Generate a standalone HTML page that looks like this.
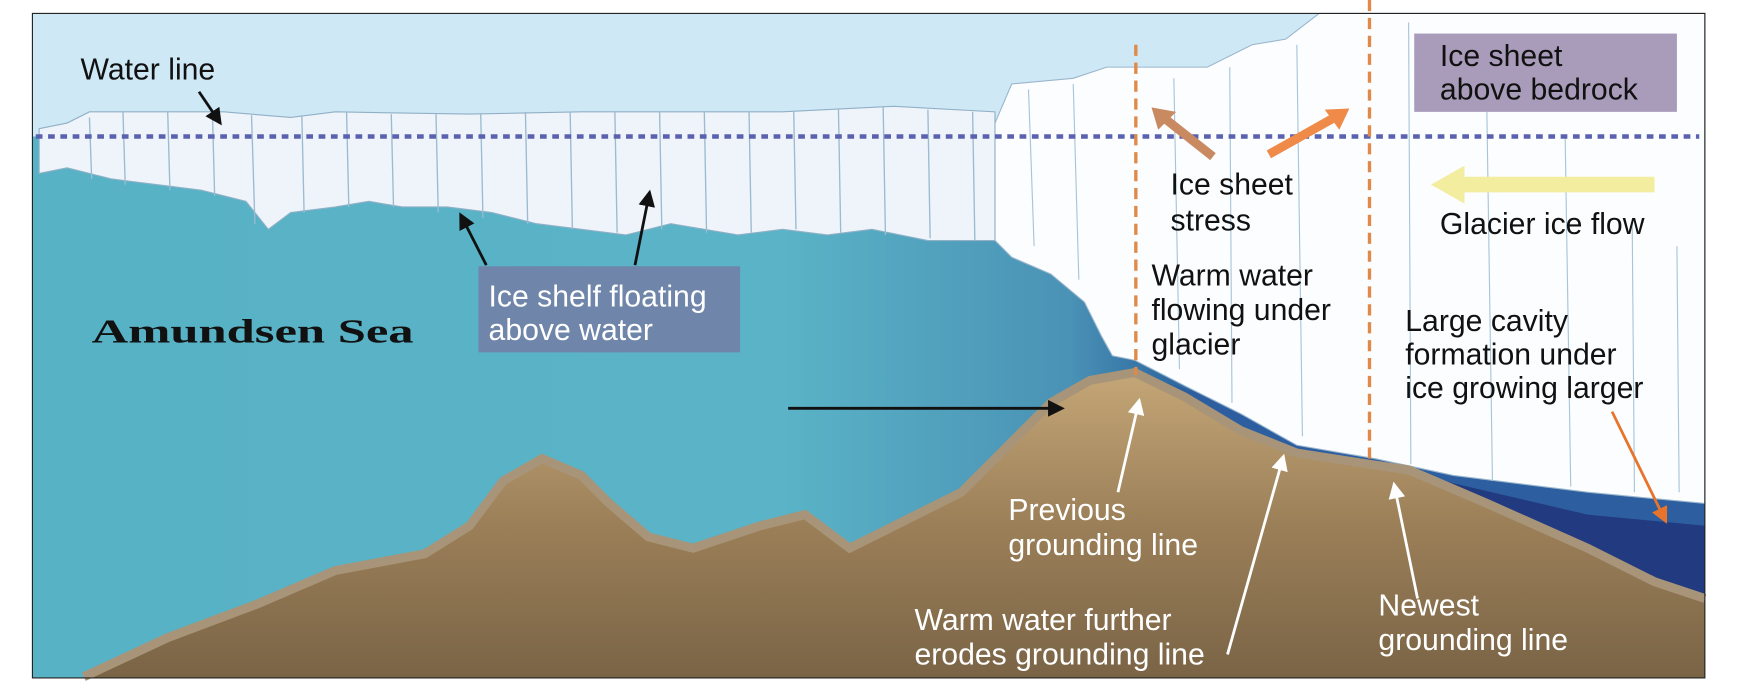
<!DOCTYPE html>
<html><head><meta charset="utf-8"><style>
html,body{margin:0;padding:0;background:#fff;width:1744px;height:688px;overflow:hidden}
svg{display:block}
</style></head><body>
<svg width="1744" height="688" viewBox="0 0 1560 615" preserveAspectRatio="none" xmlns="http://www.w3.org/2000/svg" font-family="Liberation Sans, sans-serif">
<defs>
<linearGradient id="sea" x1="0" x2="1" y1="0" y2="0">
<stop offset="0" stop-color="#58b2c6"/><stop offset="0.45" stop-color="#5ab3c6"/><stop offset="0.62" stop-color="#4a92b6"/><stop offset="0.68" stop-color="#2f6aa0"/></linearGradient>
<linearGradient id="ground" x1="0" x2="0" y1="0" y2="1">
<stop offset="0" stop-color="#c4a677"/><stop offset="0.5" stop-color="#9b7f58"/><stop offset="1" stop-color="#7a6446"/></linearGradient>
<marker id="ab" markerWidth="6" markerHeight="6" refX="5" refY="3" orient="auto"><path d="M0,0L6,3L0,6z" fill="#111"/></marker>
<marker id="aw" markerWidth="6" markerHeight="6" refX="5" refY="3" orient="auto"><path d="M0,0L6,3L0,6z" fill="#fff"/></marker>
<marker id="ao" markerWidth="6" markerHeight="6" refX="5" refY="3" orient="auto"><path d="M0,0L6,3L0,6z" fill="#e8742c"/></marker>
</defs>
<rect x="0" y="0" width="1560" height="615" fill="#fff"/>
<rect x="29" y="12" width="1496" height="594" fill="#cfe8f6"/>
<rect x="29" y="122" width="1496" height="484" fill="url(#sea)"/>
<path d="M1150,400 L1230,410 L1300,430 L1380,440 L1525,445 L1525,540 L1430,520 Z" fill="#213a80"/>
<path d="M1005,330 L1050,345 L1100,375 L1150,400 L1230,412 L1300,432 L1420,460 L1525,470 L1525,430 L1300,418 L1100,360 Z" fill="#2d5ea0"/>
<path d="M905,75 L960,70 L990,60 L1080,60 L1120,40 L1150,35 L1180,12 L1525,12 L1525,450 L1420,440 L1300,425 L1230,410 L1160,398 L1110,370 L1060,345 L1015,322 L995,318 L985,300 L970,270 L940,245 L905,230 L890,215 L890,110 Z" fill="#fbfdff" stroke="#9ab6cc" stroke-width="1"/>
<g stroke="#a8c4d8" stroke-width="1">
<line x1="920" y1="80" x2="925" y2="220"/><line x1="960" y1="75" x2="965" y2="250"/><line x1="1050" y1="70" x2="1055" y2="330"/><line x1="1100" y1="60" x2="1102" y2="360"/><line x1="1160" y1="40" x2="1165" y2="390"/><line x1="1260" y1="20" x2="1262" y2="415"/><line x1="1330" y1="100" x2="1335" y2="430"/><line x1="1400" y1="120" x2="1405" y2="435"/><line x1="1460" y1="200" x2="1462" y2="440"/><line x1="1500" y1="220" x2="1502" y2="440"/>
</g>
<path d="M35,115 L60,110 L80,100 L200,100 L260,105 L300,100 L420,102 L520,100 L700,100 L800,95 L890,100 L890,215 L830,215 L780,205 L740,210 L700,205 L660,210 L600,200 L560,210 L520,205 L480,200 L440,190 L400,185 L360,185 L330,180 L300,185 L260,190 L240,205 L220,180 L180,170 L140,165 L100,160 L60,150 L35,155 Z" fill="#eef4fa" stroke="#8fb0c6" stroke-width="1"/>
<g stroke="#9cbad0" stroke-width="1.2">
<line x1="80" y1="105" x2="82" y2="160"/><line x1="110" y1="100" x2="112" y2="165"/><line x1="150" y1="100" x2="152" y2="170"/><line x1="190" y1="100" x2="192" y2="175"/><line x1="225" y1="103" x2="228" y2="200"/><line x1="270" y1="103" x2="272" y2="190"/><line x1="310" y1="100" x2="312" y2="185"/><line x1="350" y1="102" x2="352" y2="185"/><line x1="390" y1="102" x2="392" y2="190"/><line x1="430" y1="102" x2="432" y2="195"/><line x1="470" y1="100" x2="472" y2="200"/><line x1="510" y1="100" x2="512" y2="205"/><line x1="550" y1="100" x2="552" y2="208"/><line x1="590" y1="100" x2="592" y2="205"/><line x1="630" y1="100" x2="632" y2="208"/><line x1="670" y1="100" x2="672" y2="208"/><line x1="710" y1="100" x2="712" y2="205"/><line x1="750" y1="98" x2="752" y2="208"/><line x1="790" y1="96" x2="792" y2="210"/><line x1="830" y1="98" x2="832" y2="213"/><line x1="870" y1="100" x2="872" y2="215"/>
</g>
<path d="M75,605 L150,570 L230,540 L300,510 L380,495 L420,470 L450,430 L485,410 L520,425 L545,450 L580,480 L620,490 L680,470 L720,460 L760,490 L800,470 L860,440 L900,400 L940,360 L975,340 L1015,333 L1060,355 L1110,385 L1160,405 L1225,415 L1260,420 L1330,450 L1420,490 L1480,520 L1525,535 L1525,606 L75,606 Z" fill="url(#ground)"/>
<path d="M75,605 L150,570 L230,540 L300,510 L380,495 L420,470 L450,430 L485,410 L520,425 L545,450 L580,480 L620,490 L680,470 L720,460 L760,490 L800,470 L860,440 L900,400 L940,360 L975,340 L1015,333 L1060,355 L1110,385 L1160,405 L1225,415 L1260,420 L1330,450 L1420,490 L1480,520 L1525,535" fill="none" stroke="#a89478" stroke-width="8"/>
<rect x="29" y="12" width="1496" height="594" fill="none" stroke="#222" stroke-width="1"/>
<line x1="32" y1="122" x2="1520" y2="122" stroke="#5a62b0" stroke-width="4" stroke-dasharray="6,5"/>
<line x1="1016" y1="40" x2="1016" y2="335" stroke="#e08a4a" stroke-width="3" stroke-dasharray="10,6"/>
<line x1="1225" y1="0" x2="1225" y2="410" stroke="#e08a4a" stroke-width="3" stroke-dasharray="10,6"/>
<rect x="1265" y="30" width="235" height="70" fill="#a99cba"/>
<rect x="428" y="238" width="234" height="77" fill="#6f86aa"/>
<line x1="1085" y1="140" x2="1042" y2="106" stroke="#c98a62" stroke-width="8"/>
<path d="M1030,96 L1052,100 L1036,116 Z" fill="#c98a62"/>
<line x1="1135" y1="138" x2="1192" y2="106" stroke="#ef8a48" stroke-width="8"/>
<path d="M1207,97 L1185,98 L1198,116 Z" fill="#ef8a48"/>
<line x1="1480" y1="165" x2="1305" y2="165" stroke="#f3eda0" stroke-width="14"/>
<path d="M1280,165 L1310,148 L1310,182 Z" fill="#f3eda0"/>
<g stroke="#111" stroke-width="2.5" fill="none">
<line x1="705" y1="365" x2="950" y2="365" marker-end="url(#ab)"/>
<line x1="435" y1="237" x2="412" y2="192" marker-end="url(#ab)"/>
<line x1="568" y1="237" x2="581" y2="172" marker-end="url(#ab)"/>
<line x1="178" y1="82" x2="197" y2="110" marker-end="url(#ab)"/>
</g>
<g stroke="#fff" stroke-width="2.5" fill="none">
<line x1="1000" y1="440" x2="1019" y2="358" marker-end="url(#aw)"/>
<line x1="1098" y1="585" x2="1148" y2="408" marker-end="url(#aw)"/>
<line x1="1268" y1="535" x2="1247" y2="433" marker-end="url(#aw)"/>
</g>
<line x1="1442" y1="368" x2="1490" y2="466" stroke="#e8742c" stroke-width="2.5" marker-end="url(#ao)"/>
<g font-size="27" fill="#111">
<text x="72" y="71">Water line</text>
<text x="1047" y="174">Ice sheet</text>
<text x="1047" y="206">stress</text>
<text x="1288" y="209">Glacier ice flow</text>
<text x="1030" y="255">Warm water</text>
<text x="1030" y="286">flowing under</text>
<text x="1030" y="317">glacier</text>
<text x="1257" y="296">Large cavity</text>
<text x="1257" y="326">formation under</text>
<text x="1257" y="356">ice growing larger</text>
<text x="1288" y="59">Ice sheet</text>
<text x="1288" y="89">above bedrock</text>
</g>
<g font-size="27" fill="#fff">
<text x="437" y="274">Ice shelf floating</text>
<text x="437" y="304">above water</text>
<text x="902" y="465">Previous</text>
<text x="902" y="496">grounding line</text>
<text x="818" y="563">Warm water further</text>
<text x="818" y="594">erodes grounding line</text>
<text x="1233" y="550">Newest</text>
<text x="1233" y="581">grounding line</text>
</g>
<text x="82" y="306" style="font-family:'Liberation Serif',serif;font-weight:bold;font-size:30px" textLength="288" lengthAdjust="spacingAndGlyphs" fill="#111">Amundsen Sea</text>
</svg>
</body></html>
